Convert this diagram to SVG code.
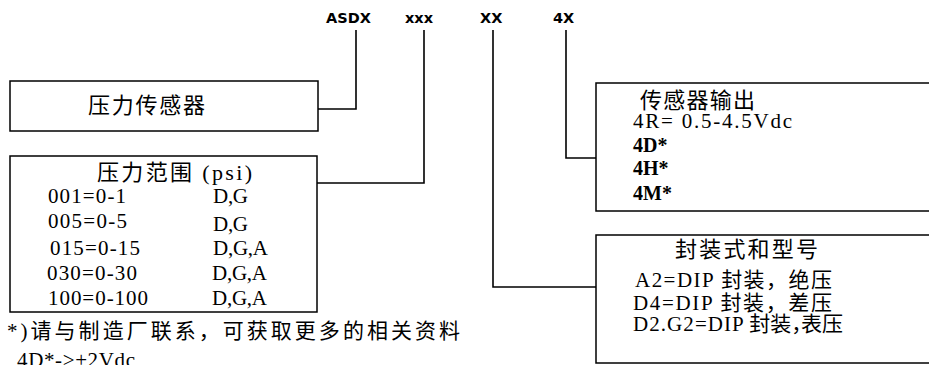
<svg xmlns="http://www.w3.org/2000/svg" width="929" height="365" viewBox="0 0 929 365">
<style>
.box{fill:none;stroke:#000;stroke-width:1.5}
.wire{fill:none;stroke:#000;stroke-width:1.6}
.code{font-family:"DejaVu Sans",sans-serif;font-weight:bold;font-size:14.5px;fill:#000}
.t{font-family:"Liberation Serif","Noto Sans CJK SC",serif;font-size:21px;fill:#000}
.b{font-family:"Liberation Serif","Noto Sans CJK SC",serif;font-size:20px;font-weight:bold;fill:#000}
.h{font-family:"Liberation Serif","Noto Sans CJK SC",serif;font-size:22px;fill:#000}
</style>
<rect width="929" height="365" fill="#fff"/>
<g id="labels">
<text class="code" x="326" y="23">ASDX</text>
<text class="code" x="405" y="23">xxx</text>
<text class="code" x="480" y="23">XX</text>
<text class="code" x="553" y="23">4X</text>
</g>
<g id="connectors">
<polyline class="wire" points="356,30 356,109 318,109"/>
<polyline class="wire" points="424,30 424,183 317,183"/>
<polyline class="wire" points="493,30 493,287 596,287"/>
<polyline class="wire" points="566,30 566,158 596,158"/>
</g>
<g id="sensor">
<rect class="box" x="10" y="81" width="308" height="50"/>
<text class="h" x="88" y="113" textLength="117" lengthAdjust="spacing">压力传感器</text>
</g>
<g id="range">
<rect class="box" x="10" y="156" width="307" height="156"/>
<text class="h" x="97" y="180" textLength="155" lengthAdjust="spacing">压力范围 (psi)</text>
<text class="t" x="48" y="203" textLength="78" lengthAdjust="spacing">001=0-1</text>
<text class="t" x="213" y="203" textLength="35" lengthAdjust="spacing">D,G</text>
<text class="t" x="48" y="228" textLength="79" lengthAdjust="spacing">005=0-5</text>
<text class="t" x="213" y="231" textLength="35" lengthAdjust="spacing">D,G</text>
<text class="t" x="50" y="255" textLength="90" lengthAdjust="spacing">015=0-15</text>
<text class="t" x="213" y="255" textLength="55" lengthAdjust="spacing">D,G,A</text>
<text class="t" x="47" y="280" textLength="90" lengthAdjust="spacing">030=0-30</text>
<text class="t" x="212" y="280" textLength="55" lengthAdjust="spacing">D,G,A</text>
<text class="t" x="48" y="305" textLength="100" lengthAdjust="spacing">100=0-100</text>
<text class="t" x="212" y="305" textLength="55" lengthAdjust="spacing">D,G,A</text>
</g>
<g id="output">
<rect class="box" x="596" y="83" width="340" height="128"/>
<text class="h" x="640" y="108" textLength="115" lengthAdjust="spacing">传感器输出</text>
<text class="t" x="633" y="128" textLength="159" lengthAdjust="spacing">4R= 0.5-4.5Vdc</text>
<text class="b" x="633" y="152">4D*</text>
<text class="b" x="633" y="175">4H*</text>
<text class="b" x="633" y="200">4M*</text>
</g>
<g id="package">
<rect class="box" x="596" y="235" width="340" height="128"/>
<text class="h" x="675" y="257" textLength="143" lengthAdjust="spacing">封装式和型号</text>
<text class="t" x="635" y="287" textLength="197" lengthAdjust="spacing">A2=DIP 封装，绝压</text>
<text class="t" x="633" y="310" textLength="199" lengthAdjust="spacing">D4=DIP 封装，差压</text>
<text class="t" x="633" y="331"><tspan textLength="110" lengthAdjust="spacing">D2.G2=DIP</tspan> 封装，<tspan x="801">表压</tspan></text>
</g>
<g id="notes">
<text class="t" x="7" y="338" font-size="22" textLength="453" lengthAdjust="spacing">*)请与制造厂联系，可获取更多的相关资料</text>
<text class="t" x="17" y="367" textLength="118" lengthAdjust="spacing">4D*-&gt;+2Vdc</text>
</g>
</svg>
